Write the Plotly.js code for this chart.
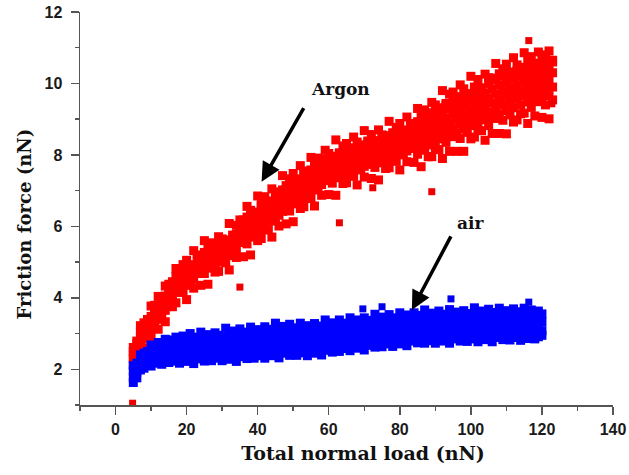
<!DOCTYPE html>
<html>
<head>
<meta charset="utf-8">
<script src="https://cdn.plot.ly/plotly-3.0.1.min.js"></script>
<style>html,body{margin:0;padding:0;background:#fff;}#chart{width:629px;height:475px;}</style>
</head>
<body>
<div id="chart"></div>
<script>
// ---- Argon (red) : total normal load (nN) vs friction force (nN) ----
const argonX = [5,6,7,8,9,10,11,12,13,14,15,16,17,18,19,20,21,22,23,24,25,26,27,28,29,30,31,32,33,34,35,36,37,38,39,40,41,42,43,44,45,46,47,48,49,50,51,52,53,54,55,56,57,58,59,60,61,62,63,64,65,66,67,68,69,70,71,72,73,74,75,76,77,78,79,80,81,82,83,84,85,86,87,88,89,90,91,92,93,94,95,96,97,98,99,100,101,102,103,104,105,106,107,108,109,110,111,112,113,114,115,116,117,118,119,120,121,122,123];
const argonY1 = [2.13,2.43,2.6,2.6,2.93,2.92,3.23,3.12,3.41,3.33,3.76,3.75,3.86,4.15,4.16,3.95,4.38,4.27,4.68,4.35,4.68,4.38,4.86,4.72,4.74,5.0,4.98,4.78,5.21,5.13,5.56,5.15,5.51,5.2,5.72,5.6,5.66,5.9,5.91,5.7,6.16,6.01,6.42,6.07,6.43,6.13,6.65,6.5,6.55,6.78,6.78,6.57,7.03,6.87,7.28,6.89,7.21,6.87,7.36,7.2,7.22,7.43,7.4,7.16,7.58,7.38,7.74,7.34,7.65,7.3,7.78,7.62,7.64,7.85,7.82,7.58,8.0,7.81,8.18,7.79,8.02,7.67,8.13,7.95,7.95,8.15,8.15,7.9,8.35,8.1,8.51,8.1,8.46,8.1,8.63,8.45,8.5,8.68,8.68,8.41,8.82,8.6,9.02,8.6,8.97,8.59,9.12,8.92,8.98,9.15,9.17,8.88,9.33,9.09,9.49,9.05,9.4,9.01,9.54];
const argonY2 = [2.3,2.48,2.78,2.85,3.07,3.12,3.36,3.4,3.62,3.65,3.9,3.95,4.2,4.2,4.4,4.35,4.52,4.52,4.72,4.7,4.87,4.83,4.98,4.92,5.08,5.05,5.22,5.18,5.35,5.38,5.6,5.55,5.76,5.7,5.9,5.85,6.06,6.0,6.21,6.15,6.36,6.31,6.52,6.47,6.68,6.63,6.83,6.75,6.95,6.88,7.08,7.02,7.23,7.17,7.38,7.29,7.46,7.37,7.54,7.45,7.62,7.53,7.7,7.61,7.78,7.68,7.84,7.74,7.9,7.8,7.96,7.87,8.04,7.95,8.12,8.03,8.2,8.11,8.28,8.19,8.33,8.22,8.4,8.28,8.48,8.35,8.58,8.45,8.68,8.52,8.76,8.62,8.86,8.72,8.96,8.82,9.05,8.9,9.13,8.98,9.2,9.05,9.3,9.15,9.4,9.24,9.48,9.32,9.56,9.4,9.65,9.48,9.71,9.54,9.77,9.6,9.83,9.66,9.9];
const argonY3 = [2.4,2.6,2.92,3.0,3.23,3.3,3.55,3.6,3.82,3.85,4.1,4.15,4.4,4.4,4.6,4.55,4.72,4.72,4.92,4.9,5.07,5.03,5.18,5.12,5.28,5.25,5.42,5.38,5.55,5.58,5.8,5.8,6.01,5.95,6.15,6.1,6.31,6.25,6.46,6.4,6.61,6.56,6.77,6.72,6.93,6.88,7.08,7.0,7.2,7.13,7.33,7.27,7.48,7.42,7.63,7.54,7.71,7.62,7.79,7.7,7.87,7.78,7.95,7.86,8.03,7.93,8.09,7.99,8.15,8.05,8.21,8.12,8.29,8.2,8.37,8.28,8.45,8.36,8.53,8.44,8.63,8.52,8.72,8.6,8.83,8.7,8.93,8.8,9.03,8.9,9.14,9.0,9.24,9.1,9.34,9.2,9.43,9.28,9.51,9.36,9.6,9.45,9.7,9.55,9.8,9.64,9.88,9.72,9.96,9.8,10.05,9.88,10.11,9.94,10.17,10.0,10.23,10.06,10.3];
const argonY4 = [2.5,2.72,3.06,3.15,3.39,3.48,3.73,3.8,4.02,4.05,4.3,4.35,4.6,4.6,4.8,4.75,4.92,4.92,5.12,5.1,5.27,5.23,5.38,5.32,5.48,5.45,5.62,5.58,5.75,5.78,6.0,6.05,6.26,6.2,6.4,6.35,6.56,6.5,6.71,6.65,6.86,6.81,7.02,6.97,7.18,7.13,7.33,7.25,7.45,7.38,7.58,7.52,7.73,7.67,7.88,7.79,7.96,7.87,8.04,7.95,8.12,8.03,8.2,8.11,8.28,8.18,8.34,8.24,8.4,8.3,8.46,8.37,8.54,8.45,8.62,8.53,8.7,8.61,8.78,8.69,8.93,8.82,9.05,8.93,9.18,9.05,9.28,9.15,9.38,9.28,9.51,9.38,9.61,9.48,9.71,9.58,9.8,9.66,9.88,9.74,10.0,9.85,10.1,9.95,10.2,10.04,10.28,10.12,10.36,10.2,10.45,10.28,10.51,10.34,10.57,10.4,10.63,10.46,10.6];
const argonY5 = [2.61,2.79,3.22,3.3,3.39,3.77,3.79,4.04,4.0,4.33,4.38,4.45,4.82,4.72,4.93,5.05,4.88,5.32,5.2,5.15,5.6,5.38,5.54,5.32,5.71,5.65,5.6,6.08,5.75,6.03,6.18,6.18,6.56,6.45,6.35,6.85,6.61,6.83,6.61,7.05,6.96,6.96,7.42,7.14,7.33,7.48,7.31,7.7,7.55,7.48,7.93,7.72,7.91,7.72,8.13,8.04,7.96,8.42,8.06,8.25,8.32,8.16,8.5,8.36,8.23,8.68,8.39,8.57,8.3,8.7,8.56,8.52,8.94,8.62,8.77,8.88,8.68,9.06,8.88,8.79,9.3,9.07,9.26,9.05,9.47,9.4,9.32,9.8,9.44,9.7,9.76,9.63,9.96,9.85,9.71,10.2,9.9,10.11,9.83,10.26,10.16,10.15,10.56,10.27,10.41,10.54,10.32,10.72,10.52,10.45,10.86,10.63,10.75,10.54,10.88,10.8,10.69,10.91,10.65];
const argonOutX = [4.8,35,63,72.4,89,116.3,122.8];
const argonOutY = [1.05,4.3,6.1,7.08,6.97,11.2,9.43];

// ---- air (blue) ----
const airX = [5,6,7,8,9,10,11,12,13,14,15,16,17,18,19,20,21,22,23,24,25,26,27,28,29,30,31,32,33,34,35,36,37,38,39,40,41,42,43,44,45,46,47,48,49,50,51,52,53,54,55,56,57,58,59,60,61,62,63,64,65,66,67,68,69,70,71,72,73,74,75,76,77,78,79,80,81,82,83,84,85,86,87,88,89,90,91,92,93,94,95,96,97,98,99,100,101,102,103,104,105,106,107,108,109,110,111,112,113,114,115,116,117,118,119,120];
const airY1 = [1.63,1.76,1.98,2.03,2.14,2.09,2.17,2.2,2.14,2.25,2.19,2.24,2.23,2.17,2.29,2.22,2.34,2.16,2.29,2.34,2.23,2.39,2.24,2.33,2.31,2.24,2.35,2.28,2.4,2.22,2.35,2.4,2.3,2.46,2.31,2.4,2.38,2.31,2.45,2.38,2.5,2.32,2.45,2.49,2.39,2.54,2.39,2.48,2.46,2.38,2.52,2.45,2.57,2.4,2.53,2.58,2.48,2.64,2.5,2.6,2.58,2.52,2.66,2.59,2.71,2.54,2.67,2.72,2.62,2.78,2.63,2.73,2.71,2.64,2.78,2.71,2.83,2.66,2.79,2.84,2.74,2.89,2.73,2.83,2.8,2.73,2.86,2.79,2.9,2.73,2.85,2.9,2.79,2.94,2.78,2.88,2.85,2.77,2.91,2.83,2.94,2.77,2.89,2.93,2.83,2.98,2.82,2.92,2.89,2.81,2.94,2.86,2.97,2.85,2.91,2.95];
const airY2 = [1.78,1.92,2.08,2.16,2.24,2.26,2.33,2.32,2.37,2.36,2.42,2.36,2.45,2.38,2.46,2.4,2.48,2.41,2.49,2.43,2.5,2.44,2.52,2.45,2.53,2.47,2.55,2.49,2.57,2.5,2.58,2.52,2.6,2.54,2.62,2.55,2.64,2.58,2.66,2.6,2.68,2.61,2.69,2.62,2.7,2.63,2.71,2.64,2.72,2.65,2.73,2.67,2.75,2.69,2.77,2.71,2.79,2.73,2.82,2.76,2.84,2.79,2.87,2.81,2.89,2.83,2.91,2.85,2.93,2.87,2.95,2.89,2.97,2.91,2.99,2.93,3.01,2.95,3.03,2.97,3.05,2.98,3.05,2.99,3.06,3.0,3.07,3.01,3.08,3.02,3.09,3.03,3.1,3.03,3.1,3.04,3.11,3.04,3.12,3.05,3.12,3.06,3.13,3.06,3.14,3.07,3.14,3.08,3.15,3.08,3.15,3.08,3.15,3.08,3.15,3.08];
const airY3 = [1.95,2.08,2.24,2.32,2.42,2.46,2.54,2.55,2.6,2.58,2.67,2.61,2.7,2.63,2.71,2.65,2.73,2.66,2.74,2.68,2.75,2.69,2.77,2.7,2.78,2.72,2.8,2.74,2.82,2.75,2.83,2.77,2.85,2.79,2.87,2.8,2.89,2.83,2.91,2.85,2.93,2.86,2.94,2.87,2.95,2.88,2.96,2.89,2.97,2.9,2.98,2.92,3.0,2.94,3.02,2.96,3.04,2.98,3.07,3.01,3.09,3.04,3.12,3.06,3.14,3.08,3.16,3.1,3.18,3.12,3.2,3.14,3.22,3.16,3.24,3.18,3.26,3.2,3.28,3.22,3.3,3.23,3.3,3.24,3.31,3.25,3.32,3.26,3.33,3.27,3.34,3.28,3.35,3.28,3.35,3.29,3.36,3.29,3.37,3.3,3.37,3.31,3.38,3.31,3.39,3.32,3.39,3.33,3.4,3.33,3.4,3.33,3.4,3.33,3.4,3.33];
const airY4 = [2.1,2.17,2.4,2.45,2.5,2.68,2.66,2.75,2.72,2.84,2.82,2.8,2.9,2.83,2.93,2.83,3.0,2.9,2.83,3.04,2.89,2.97,2.84,3.02,2.95,2.91,3.15,2.97,3.07,2.96,3.13,3.04,2.97,3.18,3.04,3.11,3.0,3.19,3.12,3.08,3.29,3.1,3.2,3.09,3.26,3.16,3.09,3.29,3.15,3.22,3.09,3.28,3.21,3.17,3.38,3.2,3.3,3.2,3.38,3.29,3.22,3.44,3.3,3.38,3.25,3.44,3.37,3.33,3.54,3.36,3.46,3.36,3.53,3.44,3.37,3.58,3.44,3.52,3.39,3.58,3.51,3.46,3.66,3.48,3.57,3.47,3.63,3.54,3.46,3.67,3.52,3.6,3.46,3.64,3.56,3.52,3.72,3.53,3.63,3.52,3.68,3.59,3.51,3.71,3.57,3.64,3.5,3.69,3.61,3.56,3.71,3.57,3.66,3.55,3.63,3.55];
const airOutX = [69.6,75,94.4,116.3];
const airOutY = [3.69,3.75,3.97,3.88];

// ---- axis ticks ----
const xTickVals = [0,20,40,60,80,100,120,140];
const yTickVals = [2,4,6,8,10,12];

const argonBandX = [].concat(argonX,argonX,argonX,argonX,argonX);
const argonBandY = [].concat(argonY1,argonY2,argonY3,argonY4,argonY5);
const airBandX = [].concat(airX,airX,airX,airX);
const airBandY = [].concat(airY1,airY2,airY3,airY4);

const mk = (c, s) => ({symbol:'square', size:s, color:c, line:{width:0}});
const traces = [
  {type:'scatter', mode:'markers', name:'Argon', x:argonBandX, y:argonBandY, marker:mk('#ff0000', 9), hoverinfo:'x+y'},
  {type:'scatter', mode:'markers', name:'Argon', x:argonOutX, y:argonOutY, marker:mk('#ee0000', 7), hoverinfo:'x+y'},
  {type:'scatter', mode:'markers', name:'air', x:airBandX, y:airBandY, marker:mk('#0000ff', 9), hoverinfo:'x+y'},
  {type:'scatter', mode:'markers', name:'air', x:airOutX, y:airOutY, marker:mk('#0000ee', 7), hoverinfo:'x+y'}
];

const axCol = '#555555';
const tickFont = {family:'Liberation Sans, Arial, sans-serif', size:16, color:'#1a1a1a', weight:700};
const titleFont = {family:'DejaVu Serif, Times New Roman, serif', size:18, color:'#111', weight:700};
const nb = '\u00a0\u00a0\u00a0\u00a0\u00a0';
const zw = '\u200b';

const layout = {
  width:629, height:475,
  margin:{l:80, r:16, t:12, b:70, pad:0},
  paper_bgcolor:'#ffffff', plot_bgcolor:'#ffffff',
  showlegend:false,
  xaxis:{
    range:[-10,140], tickvals:xTickVals, ticktext:xTickVals.map(String),
    ticks:'outside', ticklen:8, tickwidth:1.5, tickcolor:axCol,
    showline:true, linecolor:axCol, linewidth:1.5, mirror:false,
    showgrid:false, zeroline:false, tickfont:tickFont, ticklabelstandoff:1,
    minor:{dtick:10, tick0:0, ticks:'outside', ticklen:4, tickwidth:1.5, tickcolor:axCol, showgrid:false},
    title:{text:zw+nb+'Total normal load (nN)', font:{...titleFont, size:19}, standoff:10}
  },
  yaxis:{
    range:[1,12], tickvals:yTickVals, ticktext:yTickVals.map(String),
    ticks:'outside', ticklen:8, tickwidth:1.5, tickcolor:axCol,
    showline:true, linecolor:axCol, linewidth:1.5, mirror:false,
    showgrid:false, zeroline:false, tickfont:tickFont, ticklabelstandoff:5,
    minor:{dtick:1, tick0:0, ticks:'outside', ticklen:4, tickwidth:1.5, tickcolor:axCol, showgrid:false},
    title:{text:'Friction force (nN)'+nb+zw, font:titleFont, standoff:8}
  },
  annotations:[
    {x:63.2, y:9.85, xref:'x', yref:'y', text:'Argon', showarrow:false, font:{family:'DejaVu Serif, serif', size:17, color:'#111', weight:700}},
    {x:100, y:6.1, xref:'x', yref:'y', text:'air', showarrow:false, font:{family:'DejaVu Serif, serif', size:17, color:'#111', weight:700}},
    {x:41.1, y:7.25, ax:53.2, ay:9.35, xref:'x', yref:'y', axref:'x', ayref:'y', text:'', showarrow:true, arrowhead:2, arrowsize:1.1, arrowwidth:3.5, arrowcolor:'#000', standoff:0},
    {x:83.4, y:3.66, ax:94.6, ay:5.76, xref:'x', yref:'y', axref:'x', ayref:'y', text:'', showarrow:true, arrowhead:2, arrowsize:1.1, arrowwidth:3.5, arrowcolor:'#000', standoff:0}
  ]
};

Plotly.newPlot('chart', traces, layout, {staticPlot:true, displayModeBar:false});
</script>
</body>
</html>
